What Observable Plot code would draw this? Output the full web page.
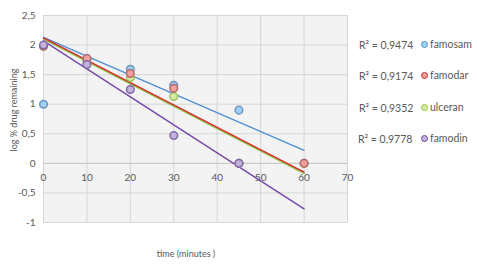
<!DOCTYPE html>
<html><head><meta charset="utf-8">
<script src="https://cdn.jsdelivr.net/npm/d3@7"></script>
<script src="https://cdn.jsdelivr.net/npm/@observablehq/plot@0.6"></script>
<style>
body{margin:0;background:#fff;font-family:Lato,"Open Sans",sans-serif;}
#wrap{position:relative;width:477px;height:264px;}
.lg{position:absolute;font-size:10.5px;color:#595959;white-space:nowrap;}
.dot{display:inline-block;width:5px;height:5px;border-radius:50%;border:1.5px solid;vertical-align:0px;margin-right:2px;}
</style></head><body>
<div id="wrap"></div>
<script>
const times = [0, 10, 20, 30, 45, 60];
const seriesNames = ["famosam", "ulceran", "famodar", "famodin"];
const famosam = [1.00, 1.77, 1.59, 1.32, 0.90, 0.00];
const ulceran = [1.98, 1.72, 1.45, 1.13, 0.00, 0.00];
const famodar = [1.98, 1.77, 1.52, 1.27, 0.00, 0.00];
const famodin = [2.00, 1.67, 1.25, 0.47, 0.00, null];
const trendX = [0, 60];
const trendStart = {famosam: 2.13, ulceran: 2.10, famodar: 2.12, famodin: 2.07};
const trendEnd = {famosam: 0.22, ulceran: -0.17, famodar: -0.15, famodin: -0.77};
const rSquared = {famosam: "0,9474", famodar: "0,9174", ulceran: "0,9352", famodin: "0,9778"};
const legendOrder = ["famosam", "famodar", "ulceran", "famodin"];
const xTicks = [0, 10, 20, 30, 40, 50, 60, 70];
const yTicks = [-1, -0.5, 0, 0.5, 1, 1.5, 2, 2.5];

const lineColor = {famosam: "#4f8fd6", ulceran: "#8cc63f", famodar: "#d42a2a", famodin: "#7448a8"};
const dotFill = {famosam: "#9dd2f0", ulceran: "#d6eaa4", famodar: "#f2a0a0", famodin: "#c4b2de"};
const dotStroke = {famosam: "#6f93c4", ulceran: "#a0c060", famodar: "#b86a6a", famodin: "#7f6aa4"};

const values = {famosam, ulceran, famodar, famodin};
const points = [];
for (const s of seriesNames) times.forEach((t, i) => { if (values[s][i] != null) points.push({s, t, v: values[s][i]}); });
const trends = [];
for (const s of seriesNames) { trends.push({s, t: trendX[0], v: trendStart[s]}); trends.push({s, t: trendX[1], v: trendEnd[s]}); }

const fmt = d => String(d).replace(".", ",");
const chart = Plot.plot({
  width: 477, height: 264,
  marginLeft: 43, marginRight: 130, marginTop: 15, marginBottom: 42,
  style: {fontFamily: "Lato, 'Open Sans', sans-serif", fontSize: "10px", color: "#595959", background: "transparent"},
  x: {domain: [0, 70]},
  y: {domain: [-1, 2.5]},
  marks: [
    Plot.frame({fill: "#f3f3f3", stroke: "none"}),
    Plot.gridX(xTicks, {stroke: "#d6d6d6", strokeOpacity: 1, strokeWidth: 1}),
    Plot.gridY(yTicks, {stroke: "#d6d6d6", strokeOpacity: 1, strokeWidth: 1}),
    Plot.ruleY([0], {stroke: "#c8c8c8"}),
    Plot.axisY(yTicks, {tickSize: 0, tickPadding: 8, tickFormat: fmt, label: null, fill: "#595959"}),
    Plot.axisX({ticks: [], tickSize: 0, label: null}),
    Plot.text(xTicks, {x: d => d, y: 0, dy: 14, text: d => fmt(d), fill: "#595959", fontSize: 10}),
    Plot.line(trends, {x: "t", y: "v", z: "s", stroke: d => lineColor[d.s], strokeWidth: 1.4}),
    Plot.dot(points, {x: "t", y: "v", r: 3.8, fill: d => dotFill[d.s], stroke: d => dotStroke[d.s], strokeWidth: 1.5})
  ]
});
const wrap = document.getElementById("wrap");
wrap.appendChild(chart);

const ylab = document.createElement("div");
ylab.className = "lg";
ylab.style.fontSize = "9px";
ylab.textContent = "log % drug remaining";
ylab.style.left = "13px"; ylab.style.top = "110px";
ylab.style.transform = "translate(-50%,-50%) rotate(-90deg)";
wrap.appendChild(ylab);

const xlab = document.createElement("div");
xlab.className = "lg";
xlab.style.fontSize = "9px";
xlab.textContent = "time (minutes )";
xlab.style.left = "186px"; xlab.style.top = "253px";
xlab.style.transform = "translate(-50%,-50%)";
wrap.appendChild(xlab);

legendOrder.forEach((s, i) => {
  const r = document.createElement("div");
  r.className = "lg";
  r.innerHTML = "R² = " + rSquared[s];
  r.style.left = (359 - (i === 3 ? 1 : 0)) + "px"; r.style.top = (45 + i * 31.3) + "px";
  r.style.transform = "translateY(-50%)";
  wrap.appendChild(r);
  const l = document.createElement("div");
  l.className = "lg";
  l.innerHTML = `<span class="dot" style="background:${dotFill[s]};border-color:${lineColor[s]}"></span>${s}`;
  l.style.left = "421px"; l.style.top = (44 + i * 31.3) + "px";
  l.style.transform = "translateY(-50%)";
  wrap.appendChild(l);
});
</script>
</body></html>
